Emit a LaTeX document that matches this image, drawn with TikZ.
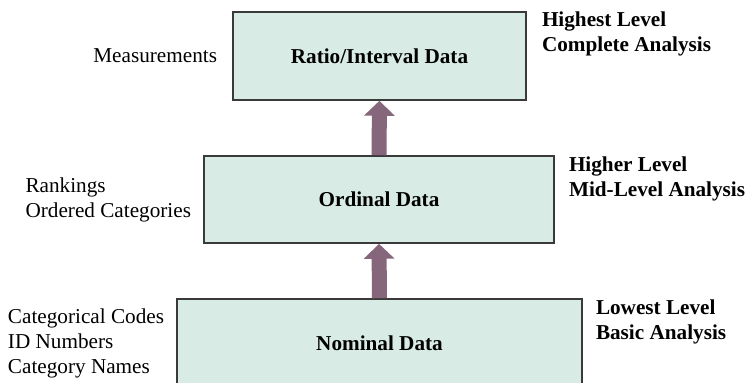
\documentclass[tikz,border=0pt]{standalone}
\usepackage{fontspec}
\setmainfont{Liberation Serif}
\usetikzlibrary{arrows.meta,positioning}

\definecolor{boxfill}{HTML}{D8ECE5}
\definecolor{boxline}{HTML}{3A3A3A}
\definecolor{upfill}{HTML}{86667A}

\tikzset{
  level/.style={draw=boxline, line width=1.6pt, fill=boxfill, inner sep=0pt,
    font=\fontsize{21.2}{25}\selectfont\bfseries},
  sidenote/.style={inner sep=0pt, align=left, font=\fontsize{21.2}{25}\selectfont},
  levelnote/.style={inner sep=0pt, align=left, anchor=base west,
    font=\fontsize{21.2}{25}\selectfont\bfseries},
  uparrow/.style={draw=upfill, line width=15pt,
    -{Triangle[width=30pt,length=15pt]}}
}

\begin{document}
\begin{tikzpicture}[x=1pt,y=-1pt]
\useasboundingbox (0,0) rectangle (748,383);

% the three measurement levels
\node[level, minimum width=293pt, minimum height=88pt] (ratio) at (379.5,56) {Ratio/Interval Data};
\node[level, minimum width=350pt, minimum height=87pt] (ord) at (379,199.5) {Ordinal Data};
\node[level, minimum width=405pt, minimum height=89pt] (nom) at (379.5,343.5) {Nominal Data};

% upward arrows between levels
\draw[uparrow] (ord.north) -- (ratio.south);
\draw[uparrow] (nom.north) -- (ord.south);

% examples on the left
\node[sidenote, anchor=east] (mex) at ([xshift=-15pt]ratio.west) {Measurements};
\node[sidenote, anchor=east] (oex) at ([xshift=-12pt]ord.west) {Rankings\\Ordered Categories};
\node[sidenote, anchor=east] (nex) at ([xshift=-12pt]nom.west) {Categorical Codes\\ID Numbers\\Category Names};

% analysis level on the right (anchored on the baseline of the second line)
\node[levelnote] (rlab) at ([xshift=15pt,yshift=-40.5pt]ratio.north east) {Highest Level\\Complete Analysis};
\node[levelnote] (olab) at ([xshift=14pt,yshift=-41pt]ord.north east) {Higher Level\\Mid-Level Analysis};
\node[levelnote] (nlab) at ([xshift=13pt,yshift=-41pt]nom.north east) {Lowest Level\\Basic Analysis};
\end{tikzpicture}
\end{document}
